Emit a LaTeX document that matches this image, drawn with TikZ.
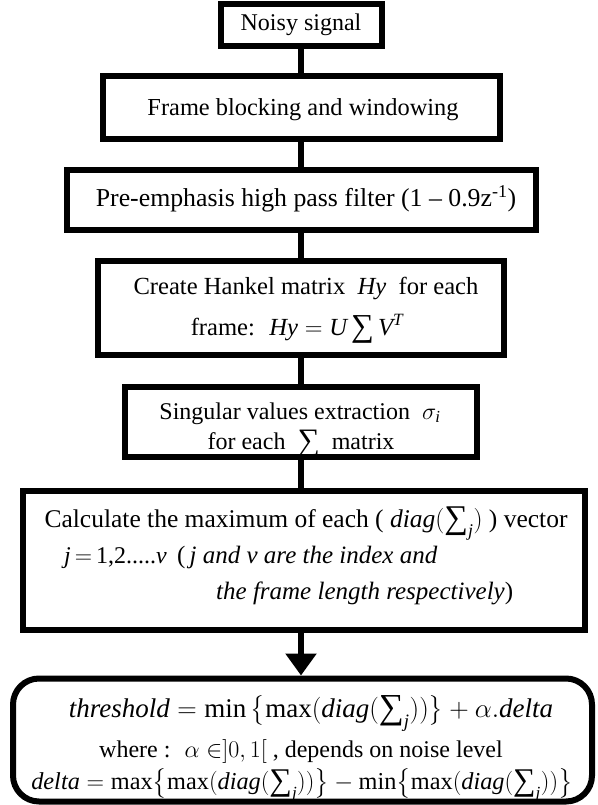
\RequirePackage{fix-cm}
\documentclass[tikz,border=0pt]{standalone}
\usepackage{amsmath}
\usepackage{graphicx}
\usepackage{fontspec}
\setmainfont{Liberation Serif}
\usetikzlibrary{arrows.meta}
\newcommand\vi[1]{\textit{#1}}
\newcommand\Sg{\text{\upshape\raisebox{-0.06em}{\scalebox{1.3}{∑}}}}
\newcommand\fs[1]{\fontsize{#1}{1.2\dimexpr#1pt\relax}\selectfont}
\tikzset{
  box/.style={draw=black, line width=6pt, inner sep=0pt, fill=white},
  rbox/.style={box, rounded corners=26pt},
  txt/.style={anchor=base, inner sep=0pt},
  ltxt/.style={anchor=base west, inner sep=0pt},
  conn/.style={line width=6pt},
}
\begin{document}
\begin{tikzpicture}[x=1pt, y=-1pt, font=\fontsize{24}{29}\selectfont]
\useasboundingbox (0,0) rectangle (597,805);
% boxes
\node[box, minimum width=161pt, minimum height=42pt] (n1) at (301,25) {};
\node[box, minimum width=397pt, minimum height=63pt] (n2) at (301,107.5) {};
\node[box, minimum width=469pt, minimum height=60pt] (n3) at (301,200) {};
\node[box, minimum width=406pt, minimum height=94pt] (n4) at (301,308) {};
\node[box, minimum width=352pt, minimum height=70pt] (n5) at (301,422) {};
\node[box, minimum width=562pt, minimum height=139pt] (n6) at (304,560.5) {};
\node[rbox, minimum width=579pt, minimum height=123pt] (n7) at (302.5,740) {};
% connectors
\draw[conn] (n1.south) -- (n2.north);
\draw[conn] (n2.south) -- (n3.north);
\draw[conn] (n3.south) -- (n4.north);
\draw[conn] (n4.south) -- (n5.north);
\draw[conn] (n5.south) -- (n5.south |- n6.north);
\draw[conn, -{Triangle[width=30pt,length=22pt]}] (n5.south |- n6.south) -- (n5.south |- n7.north);
% texts
\node[txt] (t1) at (301,31) {Noisy signal};
\node[txt, font=\fs{24.4}] (t2) at (303,116) {Frame blocking and windowing};
\node[txt, font=\fs{25.8}] (t3) at (306,207) {Pre-emphasis high pass filter (1 -- 0.9z\textsuperscript{-1})};
\node[txt, font=\fs{24.6}] (t4a) at (306,294) {Create Hankel matrix \ $\vi{Hy}$ \ for each};
\node[txt, font=\fs{24.6}] (t4b) at (297,335) {frame: \ $\vi{Hy} = \vi{U}\,\Sg\,\vi{V}^{\vi{T}}$};
\node[txt] (t5a) at (300,419) {Singular values extraction \ $\sigma_{\vi{i}}$};
\node[txt] (t5b) at (301,449) {for each \ \Sg\ \ matrix};
\node[txt, font=\fs{25.5}] (t6a) at (306,527) {Calculate the maximum of each ( $\vi{diag}(\Sg_{\vi{j}})$ ) vector};
\node[ltxt, font=\fs{24}] (t6b) at (64,563) {\vi{j}\,$=$\,1,2.....\vi{v}};
\node[ltxt, font=\fs{25}] (t6c) at (177,563) {(\,\vi{j and v are the index and}};
\node[ltxt, font=\fs{25}] (t6d) at (216,599) {\vi{the frame length respectively})};
\node[txt, font=\fs{27}] (t7a) at (311,717) {$\vi{threshold} = \text{min}\,\bigl\{\text{max}(\vi{diag}(\Sg_{\vi{j}}))\bigr\} + \alpha.\vi{delta}$};
\node[txt] (t7b) at (301,757) {where : \ $\alpha \in ]0,1[$ , depends on noise level};
\node[txt, font=\fs{24.3}] (t7c) at (302,789) {$\vi{delta} = \text{max}\bigl\{\text{max}(\vi{diag}(\Sg_{\vi{j}}))\bigr\} - \text{min}\bigl\{\text{max}(\vi{diag}(\Sg_{\vi{j}}))\bigr\}$};
\end{tikzpicture}
\end{document}
